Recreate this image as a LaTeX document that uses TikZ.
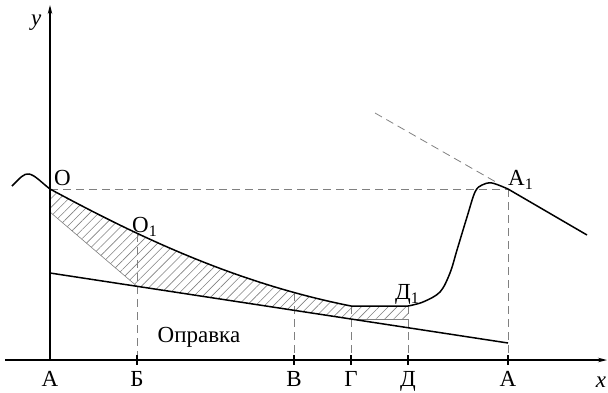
\documentclass[tikz,border=0pt]{standalone}
\usepackage{fontspec}
\setmainfont{Liberation Serif}
\usetikzlibrary{patterns.meta,arrows.meta}
\newcommand\mysub[1]{\raisebox{-0.18em}{\fontsize{16}{16}\selectfont #1}}
\begin{document}
\begin{tikzpicture}[x=1pt,y=-1pt,
  curve/.style={line width=1.5pt, black},
  axis/.style={line width=1.2pt, -{Stealth[length=9pt,width=4.5pt]}},
  guide/.style={gray, line width=0.8pt, dash pattern=on 8pt off 5pt},
  tickmark/.style={line width=1.2pt},
  lbl/.style={font=\fontsize{23}{25}\selectfont, inner sep=0pt},
  hatch/.style={pattern={Lines[angle=45,distance=6.3pt,line width=0.6pt]}, pattern color=gray},
  hedge/.style={gray, line width=0.6pt}
]
\useasboundingbox (0,0) rectangle (608,392);
\coordinate (O) at (50,189);
\coordinate (A1) at (508,189);
\coordinate (G1) at (351,306);
\coordinate (D1) at (408,306);
\coordinate (Ls) at (50,273);
\coordinate (Le) at (508,343);
\coordinate (Lb) at (137,286.3);
\coordinate (Hl) at (50,212);
\coordinate (Hg) at (351,319);
\coordinate (Hd) at (408,319);
\coordinate (T1) at (375,113);
\coordinate (T2) at (495,181.5);

% hatched region
\fill[hatch] (O) .. controls (130,232) and (230,282) .. (G1) -- (D1) -- (Hd) -- (Hg) -- (Lb) -- (Hl) -- cycle;
\draw[hedge] (Hl) -- (Lb);
\draw[hedge] (Hg) -- (Hd);

% guides
\draw[guide] (O) -- (A1);
\draw[guide] (A1) -- (508,360);
\draw[guide] (137,234) -- (137,360);
\draw[guide] (294,293) -- (294,360);
\draw[guide] (G1) -- (351,360);
\draw[guide] (D1) -- (408,360);
\draw[guide] (T1) -- (T2);

% axes
\draw[axis] (5,360) -- (607,360);
\draw[axis] (50,360) -- (50,5);
\foreach \t in {137,294,351,408,508} \draw[tickmark] (\t,355) -- (\t,365);

% curves
\draw[curve] (12,186) .. controls (20,178) and (24,173) .. (29,174) .. controls (35,175) and (42,183) .. (O) .. controls (130,232) and (230,282) .. (G1) -- (D1);
\draw[curve] plot[smooth, tension=0.55] coordinates {(408,306) (423,302) (440,292) (450,273) (457,250) (467,217) (475,192) (482,185) (492,183) (508,189)} -- (587,235);
\draw[curve] (Ls) -- (Le);

% labels
\node[lbl, anchor=base west] (lO) at (54,185) {О};
\node[lbl, anchor=base west] (lO1) at (132,232) {О\mysub{1}};
\node[lbl, anchor=base west] (lA1) at (508,185) {А\mysub{1}};
\node[lbl, anchor=base west] (lD1) at (395,299) {Д\mysub{1}};
\node[lbl, anchor=base] (opr) at (199,342) {Оправка};
\node[lbl, anchor=base] (la) at (50,386) {А};
\node[lbl, anchor=base] (lb) at (137,386) {Б};
\node[lbl, anchor=base] (lv) at (294,386) {В};
\node[lbl, anchor=base] (lg) at (351,386) {Г};
\node[lbl, anchor=base] (ld) at (408,386) {Д};
\node[lbl, anchor=base] (la2) at (508,386) {А};
\node[lbl, anchor=base west] (ly) at (31,25) {\itshape y};
\node[lbl, anchor=base] (lx) at (601,387) {\itshape x};
\end{tikzpicture}
\end{document}
